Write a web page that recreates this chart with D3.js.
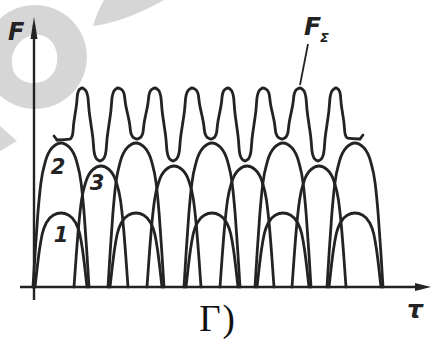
<!DOCTYPE html>
<html><head><meta charset="utf-8">
<script src="https://cdn.jsdelivr.net/npm/d3@7"></script>
<style>body{margin:0;background:#fff}svg{display:block}</style>
</head><body>
<svg id="c" width="435" height="345"></svg>
<script>
// ---- data (τ in arbitrary units, F in arbitrary units) ----
const archCenters12 = [28, 103, 179, 250, 322];   // centres of pulses of curves 1 and 2
const archCenters3  = [68, 141, 214, 286];        // centres of pulses of curve 3
const height1 = 74, height2 = 144, height3 = 121; // pulse amplitudes
const halfWidth1 = 26, halfWidth2 = 28, halfWidth3 = 27;
const sumPeaksX   = [49, 85, 122, 159, 195, 230, 267, 303];
const sumPeakF    = 199;
const sumValleysX = [67, 104, 140, 178, 212, 249, 285];
const sumValleysF = [126, 148, 126, 148, 126, 148, 126];
const sumStart = [24, 147], sumEnd = [327, 148];
const curveLabels = [{t: "2", x: 25, f: 113}, {t: "3", x: 64, f: 97}, {t: "1", x: 28, f: 45}];

const svg = d3.select("#c");
const x = d3.scaleLinear().domain([0, 390]).range([33, 423]);
const y = d3.scaleLinear().domain([0, 270]).range([287, 17]);
const ink = "#232323";

// ---- scan watermark (decorative) ----
const wm = svg.append("g").attr("fill", "#d6d6d6");
wm.append("path").attr("fill-rule", "evenodd")
  .attr("d", "M35,5 A52,52 0 1 1 34.9,5 Z M34,35 C52,33 62,52 55,70 C48,86 22,88 14,72 C7,56 18,37 34,35 Z");
wm.append("path").attr("d", "M93,26 Q125,22 164,0 L104,0 Q97,12 93,26 Z");
wm.append("path").attr("d", "M0,126 L17,141 L0,151 Z");

// ---- arches (pulse shapes) ----
const profile = [[1,0],[0.92,0.25],[0.83,0.5],[0.72,0.72],[0.56,0.87],[0.3,0.97],[0,1]];
function arch(c, w, h) {
  const left = profile.map(([u, v]) => [c - u * w, v * h]);
  const right = profile.slice(0, -1).reverse().map(([u, v]) => [c + u * w, v * h]);
  return left.concat(right);
}
const line = d3.line().x(d => x(d[0])).y(d => y(d[1])).curve(d3.curveMonotoneX);
const g = svg.append("g").attr("fill", "none").attr("stroke", ink)
  .attr("stroke-width", 2.8).attr("stroke-linejoin", "round").attr("stroke-linecap", "round");

const arches = [];
archCenters12.forEach(c => arches.push(arch(c, halfWidth1, height1)));
archCenters12.forEach(c => arches.push(arch(c, halfWidth2, height2)));
archCenters3.forEach(c => arches.push(arch(c, halfWidth3, height3)));
g.selectAll("path.arch").data(arches).join("path").attr("class", "arch").attr("d", line);

// ---- total force F_Σ ----
const ext = [sumStart];
sumPeaksX.forEach((px, i) => {
  ext.push([px, sumPeakF]);
  if (i < sumValleysX.length) ext.push([sumValleysX[i], sumValleysF[i]]);
});
ext.push(sumEnd);
const trans = [[0.12,0.015],[0.24,0.05],[0.33,0.13],[0.39,0.3],[0.5,0.5],[0.61,0.7],[0.67,0.87],[0.76,0.95],[0.88,0.985]];
const pts = [ext[0]];
for (let i = 1; i < ext.length; i++) {
  const [x0, f0] = ext[i - 1], [x1, f1] = ext[i];
  const first = i === 1, last = i === ext.length - 1;
  trans.forEach(([a, b]) => {
    let aa = a;
    if (first) aa = 0.45 + a * 0.55;       // flat lead-in along the arch top
    if (last) aa = a * 0.55;
    pts.push([x0 + aa * (x1 - x0), f0 + b * (f1 - f0)]);
  });
  pts.push(ext[i]);
}
g.append("path").attr("d", line(pts));
// small end ticks
g.append("path").attr("d", d3.line()([[x(sumStart[0]), y(sumStart[1])], [x(sumStart[0]) - 3, y(sumStart[1]) - 4]]));
g.append("path").attr("d", d3.line()([[x(sumEnd[0]), y(sumEnd[1])], [x(sumEnd[0]) + 3, y(sumEnd[1]) - 4]]));

// ---- axes ----
const ax = svg.append("g").attr("stroke", ink).attr("stroke-width", 2.4);
ax.append("line").attr("x1", x(0) + 1).attr("x2", x(0) + 1).attr("y1", y(0) + 13).attr("y2", y(262));
ax.append("line").attr("x1", x(0) - 13).attr("x2", x(385)).attr("y1", y(0)).attr("y2", y(0));
svg.append("path").attr("fill", ink)
  .attr("d", `M${x(0)+1},${y(270)} L${x(0)-2.5},${y(248)} L${x(0)+4.5},${y(248)} Z`);
svg.append("path").attr("fill", ink)
  .attr("d", `M${x(398)},${y(0)} L${x(382)},${y(0)-4} L${x(382)},${y(0)+4} Z`);

// ---- labels ----
const lab = svg.append("g").attr("fill", ink).attr("font-family", "DejaVu Sans, sans-serif");
lab.append("text").attr("x", 8).attr("y", 40).attr("font-size", 24).attr("font-weight", "bold")
  .attr("font-style", "italic").text("F");
lab.append("text").attr("x", 407).attr("y", 318).attr("font-size", 25).attr("font-weight", "bold")
  .attr("font-style", "italic").text("τ");
const fs = lab.append("text").attr("x", 304).attr("y", 35).attr("font-size", 25)
  .attr("font-weight", "bold").attr("font-style", "italic");
fs.append("tspan").text("F");
fs.append("tspan").attr("font-size", 13).attr("dy", 7).attr("dx", -1).text("Σ");
svg.append("line").attr("x1", 308).attr("y1", 44).attr("x2", x(267)).attr("y2", y(sumPeakF) - 3)
  .attr("stroke", ink).attr("stroke-width", 1.8);
lab.selectAll("text.cl").data(curveLabels).join("text").attr("class", "cl")
  .attr("x", d => x(d.x)).attr("y", d => y(d.f)).attr("text-anchor", "middle")
  .attr("font-size", 21).attr("font-weight", "bold").attr("font-style", "italic").text(d => d.t);
svg.append("text").attr("x", 218).attr("y", 331).attr("text-anchor", "middle")
  .attr("font-family", "Liberation Serif, serif").attr("font-size", 37).attr("letter-spacing", 2)
  .attr("fill", "#111").text("Г)");
</script>
</body></html>
